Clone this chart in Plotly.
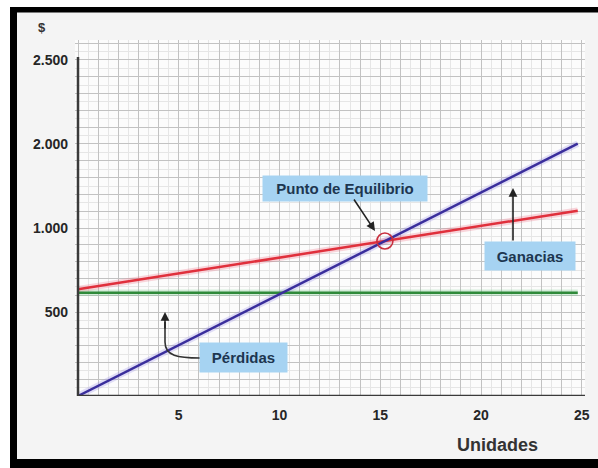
import plotly.graph_objects as go

# ---- data ----
units = [0, 24.8]
fixed_costs = [615, 615]
total_costs = [635, 1103]
revenue = [0, 1502]

y_tick_values = [500, 1000, 1500, 2000]
y_tick_labels = ["500", "1.000", "2.000", "2.500"]
x_tick_values = [5, 10, 15, 20, 25]
x_tick_labels = ["5", "10", "15", "20", "25"]

# break-even point from the two lines
slope_rev = (revenue[1] - revenue[0]) / (units[1] - units[0])
slope_cost = (total_costs[1] - total_costs[0]) / (units[1] - units[0])
x_eq = (total_costs[0] - revenue[0]) / (slope_rev - slope_cost)
y_eq = revenue[0] + slope_rev * x_eq

# ---- layout geometry (pixels) ----
W, H = 598, 468
L, R, T, B = 75, 585, 40, 396
X_RANGE = [-0.149, 25.16]
Y_RANGE = [0, 2119]


def px(p):
    return (p - L) / (R - L)


def py(p):
    return (B - p) / (B - T)


FONT = "Liberation Sans, Arial, sans-serif"
TEXT_DARK = "#262626"
BOX_BG = "#a6d3f2"
BOX_TEXT = "#1d3650"

y_lab = dict(zip(y_tick_values, y_tick_labels))
x_lab = dict(zip(x_tick_values, x_tick_labels))
y_grid = list(range(0, 2200, 100))
x_grid = list(range(0, 26))

fig = go.Figure()

series = [
    (fixed_costs, "#2f8a3a", "rgba(120,200,140,0.30)"),
    (total_costs, "#e0303c", "rgba(240,120,140,0.30)"),
    (revenue, "#3a2e9c", "rgba(150,140,230,0.28)"),
]
for vals, col, halo in series:
    fig.add_trace(go.Scatter(x=units, y=vals, mode="lines",
                             line=dict(color=halo, width=6.5), hoverinfo="skip"))
for vals, col, halo in series:
    fig.add_trace(go.Scatter(x=units, y=vals, mode="lines",
                             line=dict(color=col, width=2.5)))

fig.add_trace(go.Scatter(x=[x_eq], y=[y_eq], mode="markers",
                         marker=dict(symbol="circle-open", size=16,
                                     color="#c8303f", line=dict(width=1.6))))

fig.update_layout(
    width=W, height=H, showlegend=False,
    margin=dict(l=L, r=W - R, t=T, b=H - B, autoexpand=False),
    paper_bgcolor="#f4f4f4", plot_bgcolor="#fcfcfc",
    font=dict(family=FONT, color=TEXT_DARK),
    xaxis=dict(range=X_RANGE, tickmode="array", tickvals=x_grid,
               ticktext=[x_lab.get(v, "") for v in x_grid],
               showgrid=True, gridcolor="#c2c2c2", gridwidth=1,
               minor=dict(tickmode="linear", tick0=0, dtick=0.5,
                          showgrid=True, gridcolor="#e6e6e6"),
               zeroline=False, showline=False, ticks="",
               ticklabelstandoff=9,
               tickfont=dict(size=14, weight="bold", color=TEXT_DARK)),
    yaxis=dict(range=Y_RANGE, tickmode="array", tickvals=y_grid,
               ticktext=[y_lab.get(v, "") for v in y_grid],
               showgrid=True, gridcolor="#c2c2c2", gridwidth=1,
               minor=dict(tickmode="linear", tick0=0, dtick=50,
                          showgrid=True, gridcolor="#e6e6e6"),
               zeroline=False, showline=False, ticks="",
               ticklabelstandoff=6,
               tickfont=dict(size=14, weight="bold", color=TEXT_DARK)),
)

shapes = []
# axis lines
shapes.append(dict(type="line", xref="x", yref="y", x0=0, x1=X_RANGE[1],
                   y0=0, y1=0, line=dict(color="#3a3a3a", width=2.5)))
shapes.append(dict(type="line", xref="x", yref="y", x0=0, x1=0,
                   y0=0, y1=2018, line=dict(color="#3a3a3a", width=2.5)))
# frame
shapes.append(dict(type="rect", xref="paper", yref="paper", x0=px(0), x1=px(W),
                   y0=py(7), y1=py(0), fillcolor="white", line=dict(width=0)))
shapes.append(dict(type="rect", xref="paper", yref="paper", x0=px(0), x1=px(10),
                   y0=py(H), y1=py(0), fillcolor="white", line=dict(width=0)))
shapes.append(dict(type="rect", xref="paper", yref="paper", x0=px(10), x1=px(W),
                   y0=py(12.5), y1=py(7), fillcolor="black", line=dict(width=0)))
shapes.append(dict(type="rect", xref="paper", yref="paper", x0=px(10), x1=px(17),
                   y0=py(H), y1=py(7), fillcolor="black", line=dict(width=0)))
shapes.append(dict(type="rect", xref="paper", yref="paper", x0=px(10), x1=px(W),
                   y0=py(H), y1=py(459), fillcolor="black", line=dict(width=0)))
# curved leader for "Pérdidas"
path = "M {},{} C {},{} {},{} {},{} L {},{}".format(
    px(200), py(358), px(178), py(358), px(165), py(356), px(165), py(342),
    px(165), py(322))
shapes.append(dict(type="path", xref="paper", yref="paper", path=path,
                   line=dict(color="#333333", width=1.6)))
fig.update_layout(shapes=shapes)

ann = []


def box(text, cx, cy, w, h):
    ann.append(dict(text=text, xref="paper", yref="paper", x=px(cx), y=py(cy),
                    xanchor="center", yanchor="middle", showarrow=False,
                    bgcolor=BOX_BG, borderpad=3, width=w, height=h,
                    font=dict(size=15, weight="bold", color=BOX_TEXT)))


def arrow(tx, ty, sx, sy):
    ann.append(dict(text="", xref="paper", yref="paper", x=px(tx), y=py(ty),
                    ax=sx - tx, ay=sy - ty, showarrow=True, arrowhead=2,
                    arrowsize=1.1, arrowwidth=1.6, arrowcolor="#222222"))


box("Punto de Equilibrio", 345, 188, 158, 19)
box("Ganacias", 530, 256, 84, 22)
box("Pérdidas", 243, 357, 81, 23)
arrow(375, 231, 353, 198)
arrow(513, 188, 513, 242)
arrow(165, 312, 165, 330)

ann.append(dict(text="Unidades", xref="paper", yref="paper", x=px(497), y=py(445),
                xanchor="center", yanchor="middle", showarrow=False,
                font=dict(size=18, weight="bold", color="#333333")))
ann.append(dict(text="$", xref="paper", yref="paper", x=px(42), y=py(27),
                xanchor="center", yanchor="middle", showarrow=False,
                font=dict(size=13, weight="bold", color="#333333")))
fig.update_layout(annotations=ann)

fig.write_html("out.html",
               config={"displayModeBar": False},
               post_script="document.body.style.margin='0';"
                           "document.body.style.overflow='hidden';")
